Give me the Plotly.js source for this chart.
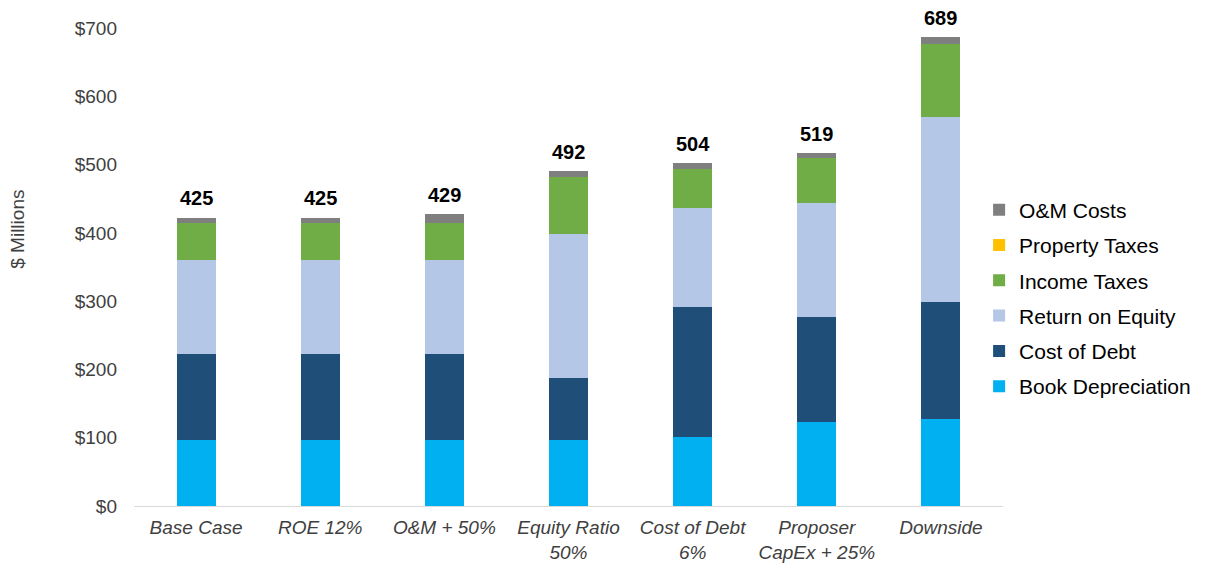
<!DOCTYPE html>
<html>
<head>
<meta charset="utf-8">
<script src="https://cdn.plot.ly/plotly-3.0.1.min.js"></script>
<style>html,body{margin:0;padding:0;background:#fff;}#chart{width:1208px;height:563px;}</style>
</head>
<body>
<div id="chart"></div>
<script>
var categories = ["Base Case", "ROE 12%", "O&M + 50%", "Equity Ratio<br>50%", "Cost of Debt<br>6%", "Proposer<br>CapEx + 25%", "Downside"];
var bookDepreciation = [96, 96, 96, 97, 101, 123, 127];
var costOfDebt = [126, 126, 126, 90, 191, 154, 172];
var returnOnEquity = [138, 138, 138, 211, 145, 167, 271];
var incomeTaxes = [55, 55, 55, 84, 57, 66, 106];
var propertyTaxes = [0, 0, 0, 0, 0, 0, 0];
var omCosts = [7, 7, 12, 9, 9, 7, 11];
var totals = [425, 425, 429, 492, 504, 519, 689];
var yTickVals = [0, 100, 200, 300, 400, 500, 600, 700];
var yTickText = ["$0", "$100", "$200", "$300", "$400", "$500", "$600", "$700"];

var seriesNames = ["Book Depreciation", "Cost of Debt", "Return on Equity", "Income Taxes", "Property Taxes", "O&M Costs"];
var seriesValues = [bookDepreciation, costOfDebt, returnOnEquity, incomeTaxes, propertyTaxes, omCosts];
var seriesColors = ["#00B0F0", "#1F4E79", "#B4C7E7", "#70AD47", "#FFC000", "#7F7F7F"];

var traces = seriesNames.map(function (n, i) {
  return {
    type: "bar",
    name: n,
    x: categories,
    y: seriesValues[i],
    legendgroup: "g" + i,
    legendrank: 1000 - i,
    marker: {color: seriesColors[i], line: {width: 0}},
    hoverinfo: "name+y"
  };
});

var annotations = categories.map(function (c, i) {
  return {
    x: c, y: totals[i], xref: "x", yref: "y",
    text: String(totals[i]), showarrow: false,
    yanchor: "middle", yshift: 18,
    font: {family: "Liberation Sans, Arial, sans-serif", size: 20, color: "#000", weight: 700}
  };
});
annotations.push({
  xref: "paper", yref: "paper", x: -0.1335, y: 0.58,
  text: "$ Millions", showarrow: false, textangle: -90,
  xanchor: "center", yanchor: "middle",
  font: {family: "Liberation Sans, Arial, sans-serif", size: 19, color: "#404040"}
});

var layout = {
  width: 1208, height: 563,
  margin: {l: 134, r: 205, t: 28, b: 57},
  paper_bgcolor: "#fff", plot_bgcolor: "#fff",
  barmode: "stack",
  bargap: 0.686,
  showlegend: true,
  legend: {
    x: 0.9725, xanchor: "left", y: 0.662, yanchor: "top",
    traceorder: "grouped", tracegroupgap: 5,
    font: {family: "Liberation Sans, Arial, sans-serif", size: 21, color: "#000"},
    bgcolor: "rgba(0,0,0,0)", borderwidth: 0
  },
  xaxis: {
    showline: true, linecolor: "#D9D9D9", linewidth: 1,
    showgrid: false, zeroline: false, ticks: "",
    ticklabelstandoff: 4,
    tickfont: {family: "Liberation Sans, Arial, sans-serif", size: 19, color: "#404040", style: "italic"}
  },
  yaxis: {
    range: [0, 700], tickvals: yTickVals, ticktext: yTickText,
    showline: false, showgrid: false, zeroline: false, ticks: "",
    ticklabelstandoff: 16,
    tickfont: {family: "Liberation Sans, Arial, sans-serif", size: 19, color: "#404040"}
  },
  annotations: annotations
};

Plotly.newPlot("chart", traces, layout, {displayModeBar: false, staticPlot: true});
</script>
</body>
</html>
